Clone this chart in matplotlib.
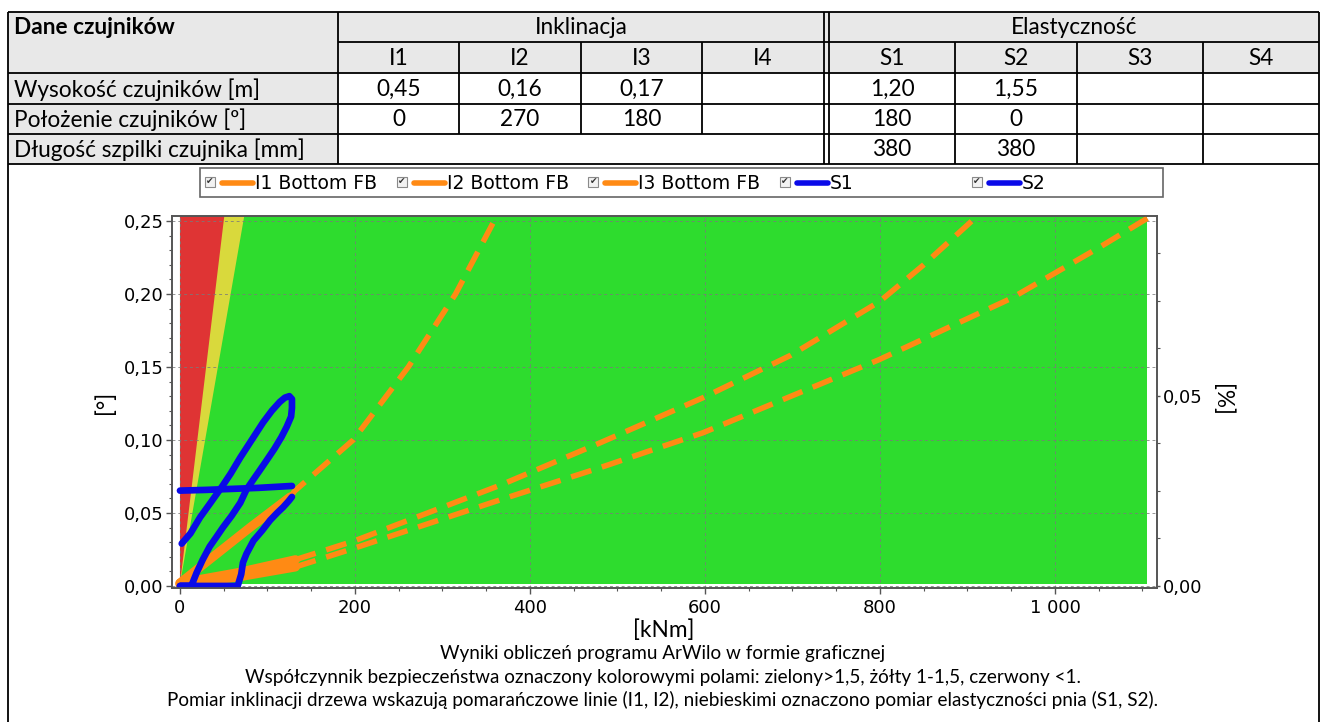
import matplotlib
matplotlib.use("Agg")
import matplotlib.pyplot as plt
from matplotlib.patches import Rectangle, Polygon
from matplotlib.ticker import MultipleLocator, FixedLocator, FuncFormatter

W, H = 1325, 722

# ---------------- sensor table ----------------
incl_sensors = ["I1", "I2", "I3", "I4"]
elast_sensors = ["S1", "S2", "S3", "S4"]
row_labels = ["Wysokość czujników [m]", "Położenie czujników [º]", "Długość szpilki czujnika [mm]"]
incl_height = ["0,45", "0,16", "0,17", ""]
incl_position = ["0", "270", "180", ""]
elast_height = ["1,20", "1,55", "", ""]
elast_position = ["180", "0", "", ""]
elast_pin_length = ["380", "380", "", ""]

# ---------------- chart data ----------------
# safety-factor zones, boundaries x = slope * y  [kNm per degree]
red_zone_slope = 200.0
yellow_zone_slope = 290.0
zone_x_max = 1105.0

# inclinometers: measured part (solid) and trend (dashed)
i1_meas_x = [0, 40, 80, 126]
i1_meas_y = [0.002, 0.021, 0.040, 0.061]
i1_trend_x = [126, 131, 198, 261, 315, 359]
i1_trend_y = [0.061, 0.065, 0.100, 0.150, 0.200, 0.250]

i2_meas_x = [0, 65, 132]
i2_meas_y = [0.002, 0.009, 0.018]
i2_trend_x = [132, 200, 366, 480, 598, 698, 800, 850, 905]
i2_trend_y = [0.018, 0.031, 0.069, 0.098, 0.129, 0.158, 0.195, 0.220, 0.250]

i3_meas_x = [0, 65, 132]
i3_meas_y = [0.001, 0.006, 0.013]
i3_trend_x = [132, 200, 366, 480, 598, 799, 950, 1051, 1106]
i3_trend_y = [0.013, 0.026, 0.059, 0.081, 0.105, 0.155, 0.197, 0.232, 0.252]

# elastometers
s1_x = [0, 30, 60, 90, 128]
s1_y = [0.0653, 0.0658, 0.0665, 0.0672, 0.0685]

s2_x = [2, 12, 23, 35, 48, 58, 69, 82, 95, 105, 114, 120, 125, 128,
        128, 127, 122, 116, 108, 99, 91, 84, 76, 69, 59, 49, 41, 34, 26, 19, 15, 13,
        0, 66,
        70, 72, 76, 84, 94, 103, 111, 118, 124, 128]
s2_y = [0.029, 0.036, 0.047, 0.057, 0.068, 0.077, 0.088, 0.100, 0.112, 0.120, 0.126, 0.129, 0.130, 0.128,
        0.122, 0.116, 0.109, 0.102, 0.094, 0.086, 0.079, 0.073, 0.066, 0.057, 0.048, 0.040, 0.033, 0.027, 0.018, 0.009, 0.003, 0.0,
        0.0, 0.0,
        0.008, 0.016, 0.022, 0.031, 0.038, 0.045, 0.050, 0.054, 0.058, 0.061]

legend_labels = ["I1 Bottom FB", "I2 Bottom FB", "I3 Bottom FB", "S1", "S2"]

x_ticks = [0, 200, 400, 600, 800, 1000]
y_ticks = [0.0, 0.05, 0.10, 0.15, 0.20, 0.25]
y2_ticks = [0.0, 0.05]

caption_lines = [
    "Wyniki obliczeń programu ArWilo w formie graficznej",
    "Współczynnik bezpieczeństwa oznaczony kolorowymi polami: zielony>1,5, żółty 1-1,5, czerwony <1.",
    "Pomiar inklinacji drzewa wskazują pomarańczowe linie (I1, I2), niebieskimi oznaczono pomiar elastyczności pnia (S1, S2).",
]

# ---------------- styling ----------------
ORANGE = "#FF8A14"
BLUE = "#0A0AE8"
GREEN = "#2EDC2E"
RED = "#DF3434"
YELLOW = "#D9D93C"
GRAY_CELL = "#E8E8E8"
TEXT_FONT = ["Lato", "DejaVu Sans"]
CHART_FONT = ["DejaVu Sans"]

fig = plt.figure(figsize=(W / 100, H / 100), dpi=100)
renderer = fig.canvas.get_renderer()


def fitted_size(text, family, target_px, weight="normal", base=10.0):
    t = fig.text(0, 0, text, fontsize=base, family=family, weight=weight)
    w = t.get_window_extent(renderer).width
    t.remove()
    return base * target_px / w


table_fs = fitted_size(row_labels[2], TEXT_FONT, 290)
caption_fs = fitted_size(caption_lines[2], TEXT_FONT, 990)

# page-level layer in pixel coordinates
bg = fig.add_axes([0, 0, 1, 1])
bg.set_xlim(0, W)
bg.set_ylim(H, 0)
bg.axis("off")

# ---- table ----
col0 = (8, 338)
incl_edges = [338, 459, 581, 702, 824]
elast_edges = [829, 955, 1077, 1203, 1319]
rows = [12, 42, 73, 104, 134, 164]
lw_t = 1.3

bg.add_patch(Rectangle((col0[0], rows[0]), 1319 - col0[0], rows[2] - rows[0], facecolor=GRAY_CELL, edgecolor="none"))
bg.add_patch(Rectangle((col0[0], rows[2]), col0[1] - col0[0], rows[5] - rows[2], facecolor=GRAY_CELL, edgecolor="none"))


def hline(y, x0, x1):
    bg.plot([x0, x1], [y, y], color="black", lw=lw_t, solid_capstyle="butt")


def vline(x, y0, y1):
    bg.plot([x, x], [y0, y1], color="black", lw=lw_t, solid_capstyle="butt")


hline(rows[0], 8, 1319)
hline(rows[1], 338, 1319)
for y in rows[2:]:
    hline(y, 8, 1319)
vline(8, rows[0], H)
vline(1319, rows[0], H)
vline(338, rows[0], rows[5])
vline(824, rows[0], rows[5])
vline(829, rows[0], rows[5])
for x in incl_edges[1:4]:
    vline(x, rows[1], rows[4])
for x in elast_edges[1:4]:
    vline(x, rows[1], rows[5])


def cy(i):
    return (rows[i] + rows[i + 1]) / 2 + 1


tkw = dict(fontsize=table_fs, family=TEXT_FONT, va="center")
bg.text(14, cy(0), "Dane czujników", weight="bold", ha="left", **tkw)
bg.text((338 + 824) / 2, cy(0), "Inklinacja", ha="center", **tkw)
bg.text((829 + 1319) / 2, cy(0), "Elastyczność", ha="center", **tkw)
for k, lab in enumerate(incl_sensors):
    bg.text((incl_edges[k] + incl_edges[k + 1]) / 2, cy(1), lab, ha="center", **tkw)
for k, lab in enumerate(elast_sensors):
    bg.text((elast_edges[k] + elast_edges[k + 1]) / 2, cy(1), lab, ha="center", **tkw)
for r, lab in enumerate(row_labels):
    bg.text(14, cy(2 + r), lab, ha="left", **tkw)
for r, vals in enumerate([incl_height, incl_position]):
    for k, v in enumerate(vals):
        bg.text((incl_edges[k] + incl_edges[k + 1]) / 2, cy(2 + r), v, ha="center", **tkw)
for r, vals in enumerate([elast_height, elast_position, elast_pin_length]):
    for k, v in enumerate(vals):
        bg.text((elast_edges[k] + elast_edges[k + 1]) / 2, cy(2 + r), v, ha="center", **tkw)

# ---- legend strip ----
leg_x0, leg_x1, leg_y0, leg_y1 = 200, 1163, 168, 197
bg.add_patch(Rectangle((leg_x0, leg_y0), leg_x1 - leg_x0, leg_y1 - leg_y0,
                       facecolor="white", edgecolor="#666666", lw=1.2))
leg_colors = [ORANGE, ORANGE, ORANGE, BLUE, BLUE]
leg_ymid = (leg_y0 + leg_y1) / 2
for k, (lab, col) in enumerate(zip(legend_labels, leg_colors)):
    cb = 210 + k * 191.7
    bg.add_patch(Rectangle((cb - 5, leg_ymid - 6), 10, 10, facecolor="#F2F2F2", edgecolor="#8A8A8A", lw=0.8))
    bg.text(cb, leg_ymid - 1, "✔", fontsize=6.5, color="#333333", ha="center", va="center", family=CHART_FONT)
    bg.plot([cb + 12, cb + 43], [leg_ymid, leg_ymid], color=col, lw=4, solid_capstyle="round")
    bg.text(cb + 45, leg_ymid + 1, lab, fontsize=13.5, family=CHART_FONT, ha="left", va="center")

# ---- captions and axis titles ----
bg.text(664, 630, "[kNm]", fontsize=caption_fs * 1.2, family=TEXT_FONT, ha="center", va="center")
bg.text(105, 402, "[°]", fontsize=caption_fs * 1.2, family=TEXT_FONT, ha="center", va="center", rotation=90)
bg.text(1222, 400, "[%]", fontsize=caption_fs * 1.2, family=TEXT_FONT, ha="center", va="center", rotation=270)
for yy, line in zip([653, 677, 700], caption_lines):
    bg.text(663, yy, line, fontsize=caption_fs, family=TEXT_FONT, ha="center", va="center")

# ---------------- chart ----------------
ax_l, ax_r, ax_t, ax_b = 172, 1157, 216, 588
ax = fig.add_axes([ax_l / W, 1 - ax_b / H, (ax_r - ax_l) / W, (ax_b - ax_t) / H])
ax.set_xlim(-9.1, 1116.6)
ax.set_ylim(-0.0014, 0.2534)
ymax = 0.2534

ax.add_patch(Rectangle((0, 0.0012), zone_x_max, ymax, facecolor=GREEN, edgecolor="none", zorder=1))
ax.add_patch(Polygon([(0, 0.0012), (yellow_zone_slope * ymax, ymax), (0, ymax)],
                     closed=True, facecolor=YELLOW, edgecolor="none", zorder=1.1))
ax.add_patch(Polygon([(0, 0.0012), (red_zone_slope * ymax, ymax), (0, ymax)],
                     closed=True, facecolor=RED, edgecolor="none", zorder=1.2))

ax.set_axisbelow(False)
ax.grid(True, which="major", color="#7A7A7A", lw=0.7, ls=(0, (3, 3)), alpha=0.8)

dash = dict(color=ORANGE, lw=4.0, dashes=(3.8, 2), dash_capstyle="butt", zorder=3)
solid = dict(color=ORANGE, lw=6.5, solid_capstyle="round", zorder=3)
for mx, my, tx, ty in [(i1_meas_x, i1_meas_y, i1_trend_x, i1_trend_y),
                       (i2_meas_x, i2_meas_y, i2_trend_x, i2_trend_y),
                       (i3_meas_x, i3_meas_y, i3_trend_x, i3_trend_y)]:
    ax.plot(tx, ty, **dash)
    ax.plot(mx, my, **solid)

blue = dict(color=BLUE, lw=4.8, solid_capstyle="round", solid_joinstyle="round", zorder=4)
ax.plot(s1_x, s1_y, **blue)
ax.plot(s2_x, s2_y, **blue)

spine_col = "#555555"
for s in ax.spines.values():
    s.set_color(spine_col)
    s.set_linewidth(1.2)

ax.xaxis.set_major_locator(FixedLocator(x_ticks))
ax.xaxis.set_minor_locator(MultipleLocator(50))
ax.yaxis.set_major_locator(FixedLocator(y_ticks))
ax.yaxis.set_minor_locator(MultipleLocator(0.01))
ax.xaxis.set_major_formatter(FuncFormatter(lambda v, p: f"{int(round(v)):,}".replace(",", " ")))
ax.yaxis.set_major_formatter(FuncFormatter(lambda v, p: f"{v:.2f}".replace(".", ",")))
ax.tick_params(which="major", direction="out", length=4, width=1, color=spine_col,
               labelsize=13, pad=2)
ax.tick_params(which="minor", direction="out", length=2.5, width=0.8, color=spine_col)
ax.tick_params(axis="x", which="major", pad=4)
for lab in ax.get_xticklabels() + ax.get_yticklabels():
    lab.set_family(CHART_FONT)

scale_r = 0.3842
ax2 = ax.twinx()
ax2.set_ylim(-0.0014 * scale_r, ymax * scale_r)
ax2.yaxis.set_major_locator(FixedLocator(y2_ticks))
ax2.yaxis.set_minor_locator(MultipleLocator(0.0125))
ax2.yaxis.set_major_formatter(FuncFormatter(lambda v, p: f"{v:.2f}".replace(".", ",")))
ax2.tick_params(which="major", direction="out", length=2, width=1, color=spine_col, labelsize=13, pad=2)
ax2.tick_params(which="minor", direction="out", length=2, width=0.8, color=spine_col)
for s in ax2.spines.values():
    s.set_color(spine_col)
    s.set_linewidth(1.2)
for lab in ax2.get_yticklabels():
    lab.set_family(CHART_FONT)

fig.savefig("out.png", dpi=100)
